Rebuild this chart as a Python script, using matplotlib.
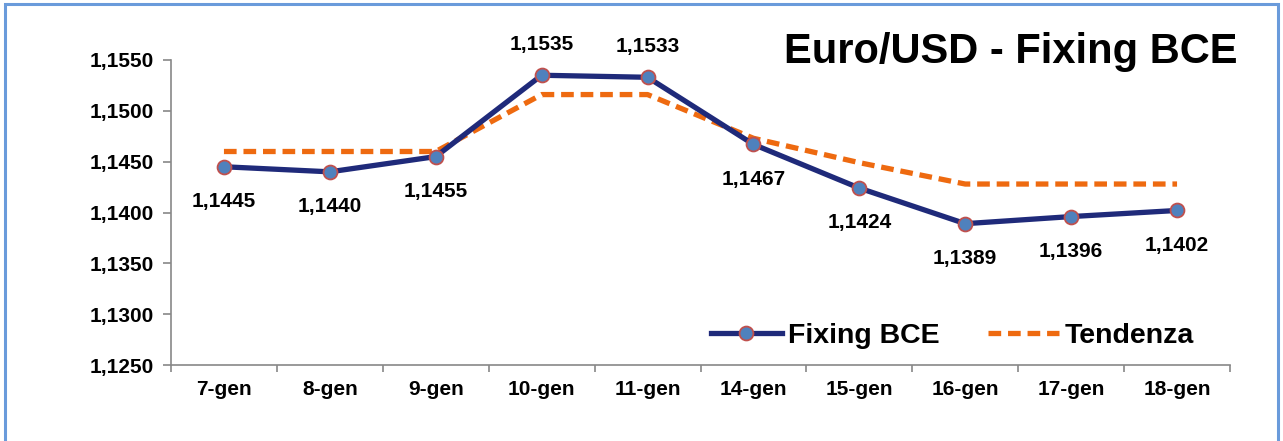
import matplotlib.pyplot as plt
from matplotlib.patches import Rectangle

days = ["7-gen", "8-gen", "9-gen", "10-gen", "11-gen", "14-gen", "15-gen", "16-gen", "17-gen", "18-gen"]
fixing = [1.1445, 1.1440, 1.1455, 1.1535, 1.1533, 1.1467, 1.1424, 1.1389, 1.1396, 1.1402]
tendenza = [1.1460, 1.1460, 1.1460, 1.1516, 1.1516, 1.1473, 1.1449, 1.1428, 1.1428, 1.1428]
yticks = [1.125, 1.130, 1.135, 1.140, 1.145, 1.150, 1.155]

plt.rcParams['font.family'] = ['Liberation Sans', 'DejaVu Sans']

navy = '#1F2A7A'
orange = '#EE6A10'

fig = plt.figure(figsize=(12.83, 4.41), dpi=100)
ax = fig.add_axes([171 / 1283, 76 / 441, (1230 - 171) / 1283, 305 / 441])

x = range(len(days))
ax.plot(x, tendenza, color=orange, lw=3.8, ls=(0, (2.4, 1.3)), label='Tendenza', zorder=2)
ax.plot(x, fixing, color=navy, lw=3.8, marker='o', ms=10, mfc='#4F81BD', mec='#C0504D',
        mew=1.3, label='Fixing BCE', zorder=3)

def fmt(v):
    return f"{v:.4f}".replace('.', ',')

for i, v in enumerate(fixing):
    above = v > 1.15
    ax.annotate(fmt(v), (i, v), xytext=(0, 22 if above else -25), textcoords='offset points',
                ha='center', va='center', fontsize=15, fontweight='bold')

ax.set_xlim(-0.5, len(days) - 0.5)
ax.set_ylim(1.125, 1.155)
ax.set_xticks(list(x))
ax.set_xticklabels(days, fontsize=15, fontweight='bold')
ax.set_xticks([i + 0.5 for i in range(-1, len(days))], minor=True)
ax.tick_params(axis='x', which='major', length=0, pad=11)
ax.tick_params(axis='x', which='minor', length=5, color='#888888', width=1.2)
ax.set_yticks(yticks)
ax.set_yticklabels([fmt(v) for v in yticks], fontsize=15, fontweight='bold')
ax.tick_params(axis='y', length=6, color='#888888', width=1.2, pad=6)
for s in ['top', 'right']:
    ax.spines[s].set_visible(False)
for s in ['left', 'bottom']:
    ax.spines[s].set_color('#888888')
    ax.spines[s].set_linewidth(1.2)

fig.text(1238 / 1283, 1 - 52 / 441, "Euro/USD - Fixing BCE", ha='right', va='center',
         fontsize=30, fontweight='bold')

h, l = ax.get_legend_handles_labels()
ax.legend(h[::-1], l[::-1], loc='lower right', bbox_to_anchor=(0.99, -0.03), ncol=2, frameon=False,
          prop={'size': 20.5, 'weight': 'bold'}, handlelength=2.5, columnspacing=1.7, handletextpad=0.2)

fig.patches.append(Rectangle((5 / 1283, -0.05), 1273 / 1283, 1.05 - 4 / 441, transform=fig.transFigure,
                             fill=False, ec='#6A9BDB', lw=2.2))

fig.savefig('out.png', dpi=100)
